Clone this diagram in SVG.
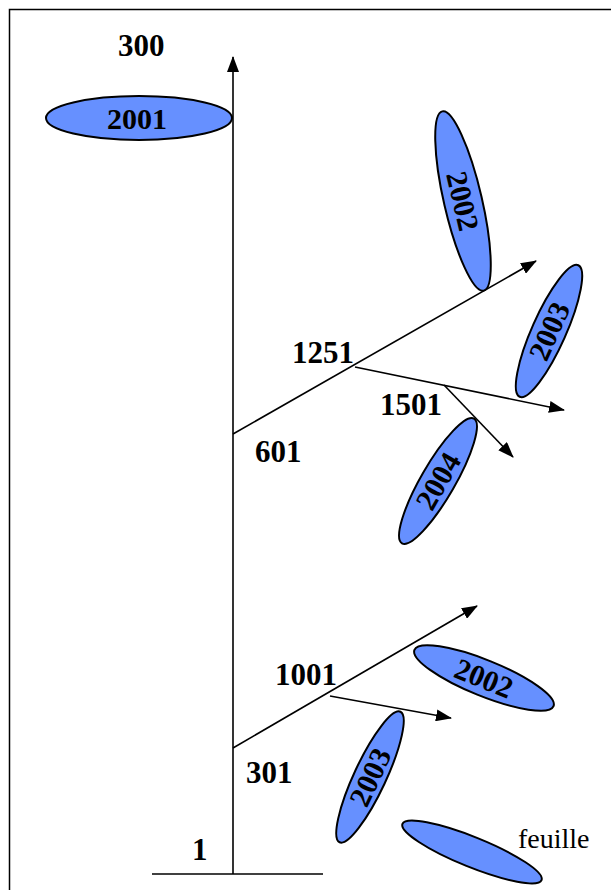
<svg xmlns="http://www.w3.org/2000/svg" width="611" height="890" viewBox="0 0 611 890">
<style>
.leaf{fill:#6690FF;stroke:#000;stroke-width:2}
.lab{font-family:"Liberation Serif","Times New Roman",serif;font-weight:bold;font-size:31px;fill:#000}
.lt{font-family:"Liberation Serif","Times New Roman",serif;font-weight:bold;font-size:30px;fill:#000;text-anchor:middle;dominant-baseline:central}
.ln{stroke:#000;stroke-width:1.6;fill:none}
</style>
<defs>
<marker id="ah" viewBox="0 0 16 12" refX="15" refY="6" markerWidth="16" markerHeight="12" markerUnits="userSpaceOnUse" orient="auto">
<path d="M0,0 L16,6 L0,12 Z" fill="#000"/>
</marker>
</defs>
<rect x="9.5" y="9.5" width="620" height="900" fill="none" stroke="#000" stroke-width="1.5"/>
<g id="connectors">
<line class="ln" x1="233" y1="874" x2="233" y2="57" marker-end="url(#ah)"/>
<line class="ln" x1="152" y1="874" x2="323" y2="874"/>
<line class="ln" x1="233" y1="434" x2="536" y2="261" marker-end="url(#ah)"/>
<line class="ln" x1="355" y1="367" x2="564" y2="410" marker-end="url(#ah)"/>
<line class="ln" x1="444" y1="385" x2="513" y2="457" marker-end="url(#ah)"/>
<line class="ln" x1="233" y1="748" x2="477" y2="606" marker-end="url(#ah)"/>
<line class="ln" x1="330" y1="696" x2="451" y2="718" marker-end="url(#ah)"/>
</g>
<g id="labels">
<text class="lab" x="118" y="56">300</text>
<text class="lab" x="292" y="363">1251</text>
<text class="lab" x="255" y="462">601</text>
<text class="lab" x="380" y="415">1501</text>
<text class="lab" x="275" y="685">1001</text>
<text class="lab" x="246" y="783">301</text>
<text class="lab" x="192" y="860">1</text>
</g>
<g id="leaf2001">
<ellipse class="leaf" cx="139" cy="118" rx="93" ry="22"/>
<text class="lt" x="137" y="118">2001</text>
</g>
<g id="leaf2002a" transform="translate(463,201) rotate(77)">
<ellipse class="leaf" cx="0" cy="0" rx="92" ry="19"/>
<text class="lt" x="0" y="0">2002</text>
</g>
<g id="leaf2003a" transform="translate(549,331) rotate(-66)">
<ellipse class="leaf" cx="0" cy="0" rx="72" ry="17"/>
<text class="lt" x="0" y="0">2003</text>
</g>
<g id="leaf2004" transform="translate(438,481) rotate(-60)">
<ellipse class="leaf" cx="0" cy="0" rx="72" ry="17"/>
<text class="lt" x="0" y="0">2004</text>
</g>
<g id="leaf2002b" transform="translate(484,678) rotate(22)">
<ellipse class="leaf" cx="0" cy="0" rx="75" ry="18"/>
<text class="lt" x="0" y="0">2002</text>
</g>
<g id="leaf2003b" transform="translate(370,777) rotate(-65)">
<ellipse class="leaf" cx="0" cy="0" rx="72" ry="16"/>
<text class="lt" x="0" y="0">2003</text>
</g>
<g id="feuille">
<ellipse class="leaf" cx="472" cy="852" rx="75" ry="15" transform="rotate(22 472 852)"/>
<text x="518" y="848" font-family="'Liberation Serif','Times New Roman',serif" font-size="28" fill="#000">feuille</text>
</g>
</svg>
